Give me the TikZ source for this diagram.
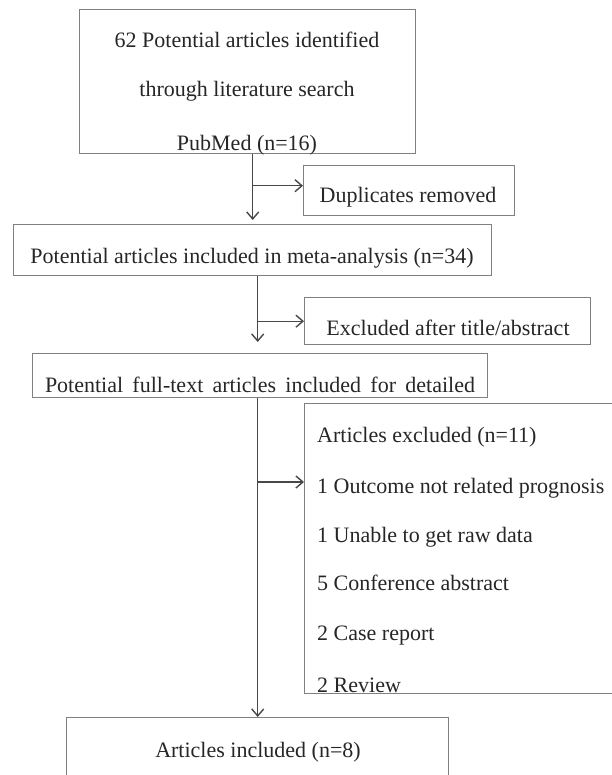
\documentclass[tikz,border=0pt]{standalone}
\usepackage{fontspec}
\setmainfont{Liberation Serif}
\usetikzlibrary{arrows.meta}
\definecolor{ink}{HTML}{262626}
\definecolor{frame}{HTML}{808080}
\definecolor{wire}{HTML}{484848}
\begin{document}
\begin{tikzpicture}[x=1pt,y=-1pt,
  box/.style={draw=frame, line width=1.4pt, inner sep=0pt, anchor=north west},
  txt/.style={text=ink, font=\fontsize{22}{26}\selectfont, inner sep=0pt, anchor=base},
  txtl/.style={txt, anchor=base west},
  arr/.style={draw=wire, line width=1.4pt, -{Straight Barb[length=7pt,width=12pt]}}]

\useasboundingbox (0,0) rectangle (611,775);

%% boxes
\node[box, minimum width=336pt, minimum height=144pt] (search) at (79,9)  {};  %% search
\node[box, minimum width=211pt, minimum height=50pt]  (dup)    at (303,165) {}; %% duplicates
\node[box, minimum width=478pt, minimum height=51pt]  (meta)   at (13,224)  {}; %% meta-analysis
\node[box, minimum width=286pt, minimum height=47pt]  (excl)   at (304,297) {}; %% title/abstract
\node[box, minimum width=455pt, minimum height=44pt]  (full)   at (32,353)  {}; %% full text
\node[box, minimum width=320pt, minimum height=290pt] (rej)    at (304,403) {}; %% excluded list
\node[box, minimum width=382pt, minimum height=80pt]  (final)  at (66,717)  {}; %% included

%% texts
\begin{scope}
\clip (search.south west) rectangle (search.north east);
\node[txt] (s1) at (247,48)  {62 Potential articles identified};
\node[txt] (s2) at (247,97)  {through literature search};
\node[txt] (s3) at (247,151) {PubMed (n=16)};
\end{scope}
\node[txt] (dupt)  at (408,203) {Duplicates removed};
\node[txt] (metat) at (252,263) {Potential articles included in meta-analysis (n=34)};
\node[txt] (exclt) at (448,335) {Excluded after title/abstract};
\node[txt] (fullt) at (260,392) {\makebox[430pt][s]{Potential full-text articles included for detailed}};
\begin{scope}
\clip (rej.south west) rectangle (rej.north east);
\foreach \y/\line [count=\i] in {442/Articles excluded (n=11), 493/1 Outcome not related prognosis,
    542/1 Unable to get raw data, 590/5 Conference abstract, 640/2 Case report, 692/2 Review}
  \node[txtl] (r\i) at (317,\y) {\line};
\end{scope}
\node[txt] (finalt) at (258,757) {Articles included (n=8)};

%% arrows
\coordinate (j1) at ([xshift=5pt]search.south);
\coordinate (d1) at ([yshift=5pt]dup.west);
\draw[arr, shorten >=4pt] (j1) -- (j1 |- meta.north);
\draw[arr] (j1 |- d1) -- (d1);

\coordinate (j2) at ([xshift=5pt]meta.south);
\draw[arr, shorten >=11pt] (j2) -- (j2 |- full.north);
\draw[arr] (j2 |- excl.west) -- (excl.west);

\coordinate (j3) at ([xshift=-2.5pt]full.south);
\coordinate (e1) at ([yshift=-79pt]rej.north west);
\draw[arr] (j3) -- (j3 |- final.north);
\draw[arr] (j3 |- e1) -- (e1);
\end{tikzpicture}
\end{document}
